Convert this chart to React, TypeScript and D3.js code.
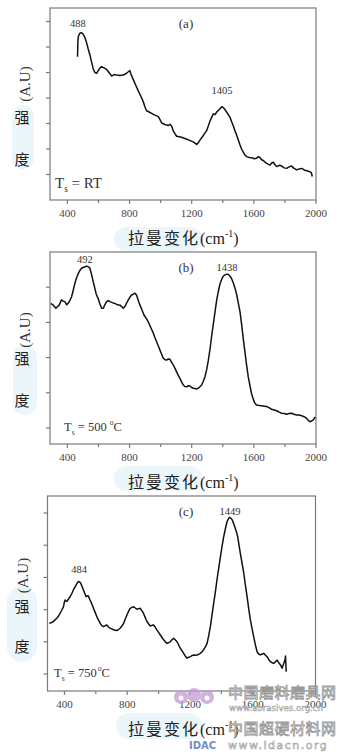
import React from "react";
import * as d3 from "d3";

// Raman shift (cm^-1), intensity (a.u.)
const ramanA: [number, number][] = [
  [465, 5.62], [468, 6.3], [472, 6.45], [480, 6.54], [490, 6.56], [500, 6.52], [512, 6.38], [523, 6.18],
  [534, 5.92], [545, 5.69], [556, 5.4], [566, 5.15], [577, 5.0], [588, 4.97], [599, 5.08], [610, 5.18],
  [620, 5.23], [636, 5.18], [652, 5.12], [668, 5.0], [685, 4.86], [701, 4.92], [717, 4.9], [738, 4.88],
  [759, 4.9], [775, 4.95], [792, 5.03], [802, 5.08], [808, 4.95], [824, 4.72], [840, 4.5], [856, 4.28],
  [872, 4.08], [888, 3.86], [899, 3.65], [910, 3.5], [926, 3.45], [942, 3.4], [963, 3.33], [985, 3.27],
  [996, 3.15], [1007, 3.02], [1028, 2.96], [1049, 2.92], [1060, 2.97], [1071, 2.9], [1082, 2.7],
  [1092, 2.6], [1103, 2.5], [1120, 2.48], [1140, 2.45], [1160, 2.4], [1178, 2.36], [1194, 2.32],
  [1210, 2.28], [1232, 2.18], [1243, 2.25], [1253, 2.35], [1269, 2.48], [1285, 2.62], [1296, 2.72],
  [1308, 2.92], [1318, 3.1], [1329, 3.25], [1339, 3.38], [1350, 3.35], [1361, 3.45], [1372, 3.52],
  [1382, 3.58], [1393, 3.66], [1404, 3.62], [1414, 3.55], [1430, 3.4], [1446, 3.25], [1457, 3.07],
  [1468, 2.9], [1478, 2.72], [1489, 2.55], [1500, 2.35], [1511, 2.16], [1521, 2.0], [1532, 1.88],
  [1543, 1.76], [1554, 1.7], [1570, 1.67], [1586, 1.66], [1602, 1.62], [1618, 1.64], [1629, 1.7],
  [1640, 1.66], [1650, 1.58], [1661, 1.55], [1672, 1.48], [1683, 1.44], [1694, 1.4], [1704, 1.37],
  [1715, 1.45], [1726, 1.48], [1736, 1.38], [1747, 1.31], [1763, 1.36], [1779, 1.33], [1795, 1.26],
  [1811, 1.24], [1827, 1.3], [1843, 1.33], [1859, 1.24], [1876, 1.18], [1892, 1.22], [1908, 1.24],
  [1924, 1.18], [1940, 1.15], [1956, 1.12], [1970, 1.07], [1976, 0.92],
];

const ramanB: [number, number][] = [
  [292, 4.54], [309, 4.49], [326, 4.4], [337, 4.45], [347, 4.49], [362, 4.64], [373, 4.6], [384, 4.59],
  [395, 4.5], [405, 4.54], [416, 4.62], [427, 4.73], [438, 4.92], [448, 5.11], [459, 5.27], [470, 5.39],
  [481, 5.48], [491, 5.54], [502, 5.56], [513, 5.58], [524, 5.6], [534, 5.58], [545, 5.54], [556, 5.35],
  [566, 5.16], [575, 5.0], [584, 4.83], [591, 4.74], [598, 4.68], [609, 4.52], [620, 4.4], [631, 4.4],
  [641, 4.5], [652, 4.59], [663, 4.62], [674, 4.59], [690, 4.56], [706, 4.54], [722, 4.5], [738, 4.49],
  [749, 4.45], [759, 4.4], [770, 4.45], [781, 4.55], [792, 4.64], [803, 4.72], [813, 4.78], [824, 4.8],
  [835, 4.83], [845, 4.78], [856, 4.62], [867, 4.49], [880, 4.35], [893, 4.21], [906, 4.12], [920, 4.02],
  [936, 3.86], [953, 3.69], [963, 3.57], [974, 3.45], [985, 3.33], [995, 3.22], [1006, 3.1], [1017, 2.98],
  [1028, 2.94], [1038, 2.93], [1049, 2.96], [1060, 2.95], [1070, 2.87], [1081, 2.79], [1092, 2.7],
  [1102, 2.6], [1113, 2.5], [1124, 2.41], [1135, 2.31], [1146, 2.22], [1156, 2.18], [1167, 2.17],
  [1178, 2.2], [1189, 2.19], [1200, 2.15], [1210, 2.13], [1221, 2.12], [1232, 2.11], [1243, 2.13],
  [1253, 2.17], [1264, 2.22], [1274, 2.32], [1285, 2.45], [1296, 2.65], [1307, 2.92], [1318, 3.25],
  [1328, 3.6], [1339, 3.95], [1350, 4.3], [1361, 4.64], [1371, 4.87], [1382, 5.09], [1393, 5.22],
  [1403, 5.31], [1414, 5.35], [1425, 5.37], [1436, 5.36], [1446, 5.32], [1457, 5.24], [1468, 5.12],
  [1478, 4.98], [1489, 4.8], [1500, 4.55], [1511, 4.3], [1521, 3.95], [1532, 3.53], [1543, 3.15],
  [1553, 2.8], [1564, 2.45], [1575, 2.2], [1585, 1.98], [1596, 1.82], [1607, 1.7], [1618, 1.65],
  [1634, 1.64], [1650, 1.63], [1666, 1.62], [1682, 1.61], [1698, 1.58], [1714, 1.53], [1730, 1.51],
  [1747, 1.49], [1763, 1.45], [1779, 1.42], [1795, 1.41], [1811, 1.39], [1827, 1.41], [1843, 1.42],
  [1859, 1.39], [1875, 1.37], [1891, 1.37], [1907, 1.35], [1923, 1.32], [1940, 1.27], [1950, 1.22],
  [1961, 1.18], [1972, 1.2], [1983, 1.23], [1993, 1.3], [2000, 1.28],
];

const ramanC: [number, number][] = [
  [304, 2.57], [318, 2.6], [330, 2.63], [340, 2.68], [351, 2.73], [362, 2.8], [372, 2.88], [383, 2.98],
  [394, 3.09], [399, 3.22], [404, 3.3], [410, 3.27], [415, 3.25], [426, 3.33], [436, 3.4], [447, 3.5],
  [457, 3.61], [466, 3.69], [474, 3.76], [482, 3.83], [489, 3.87], [497, 3.86], [504, 3.82], [512, 3.72],
  [521, 3.61], [530, 3.5], [538, 3.4], [546, 3.43], [553, 3.42], [560, 3.33], [568, 3.25], [579, 3.12],
  [589, 2.99], [600, 2.86], [611, 2.73], [620, 2.65], [628, 2.57], [638, 2.5], [649, 2.47], [659, 2.5],
  [670, 2.52], [681, 2.46], [691, 2.42], [702, 2.4], [713, 2.37], [724, 2.36], [734, 2.35], [745, 2.38],
  [755, 2.42], [766, 2.49], [777, 2.57], [787, 2.7], [798, 2.83], [809, 2.95], [819, 3.04], [830, 3.07],
  [840, 3.09], [851, 3.05], [862, 3.01], [872, 3.03], [883, 3.04], [894, 2.96], [904, 2.88], [915, 2.75],
  [926, 2.63], [936, 2.56], [947, 2.49], [958, 2.51], [968, 2.52], [979, 2.45], [989, 2.37], [1000, 2.29],
  [1011, 2.21], [1021, 2.14], [1032, 2.06], [1043, 2.0], [1053, 1.95], [1064, 1.97], [1074, 2.0],
  [1085, 2.06], [1096, 2.11], [1106, 2.06], [1117, 2.0], [1128, 1.9], [1138, 1.8], [1149, 1.72],
  [1160, 1.64], [1170, 1.56], [1181, 1.49], [1192, 1.52], [1202, 1.54], [1213, 1.57], [1223, 1.59],
  [1234, 1.58], [1245, 1.59], [1255, 1.61], [1266, 1.64], [1277, 1.69], [1287, 1.75], [1298, 1.84],
  [1309, 1.95], [1319, 2.18], [1330, 2.47], [1340, 2.82], [1351, 3.19], [1362, 3.55], [1372, 3.92],
  [1383, 4.28], [1394, 4.64], [1404, 4.96], [1415, 5.27], [1426, 5.52], [1436, 5.73], [1445, 5.82],
  [1453, 5.87], [1460, 5.84], [1468, 5.8], [1478, 5.68], [1489, 5.52], [1497, 5.4], [1504, 5.27],
  [1512, 5.02], [1521, 4.75], [1532, 4.44], [1543, 4.13], [1553, 3.77], [1564, 3.4], [1574, 3.04],
  [1585, 2.68], [1596, 2.4], [1606, 2.16], [1617, 1.9], [1628, 1.69], [1638, 1.62], [1649, 1.59],
  [1660, 1.62], [1670, 1.64], [1681, 1.58], [1691, 1.54], [1702, 1.45], [1713, 1.38], [1723, 1.35],
  [1734, 1.33], [1745, 1.38], [1755, 1.43], [1766, 1.35], [1777, 1.28], [1787, 1.18], [1798, 1.33],
  [1806, 1.45], [1809, 1.56], [1813, 1.07],
];

const xTickLabels = [400, 800, 1200, 1600, 2000];
const xMinorTicks = [600, 1000, 1400, 1800];
const yTicksA = [1, 2, 3, 4, 5, 6, 7];
const yTicksB = [1, 2, 3, 4, 5];
const yTicksC = [1, 2, 3, 4, 5, 6];

const peaksA = [
  { text: "488", x: 468, y: 6.8 },
  { text: "1405", x: 1395, y: 4.16 },
];
const peaksB = [
  { text: "492", x: 513, y: 5.7 },
  { text: "1438", x: 1427, y: 5.47 },
];
const peaksC = [
  { text: "484", x: 493, y: 4.14 },
  { text: "1449", x: 1455, y: 5.94 },
];

const SERIF = "'Liberation Serif', 'DejaVu Serif', serif";
const CJK = "'Noto Sans CJK SC', sans-serif";
const HL = "#eaf6f9";

type PanelProps = {
  data: [number, number][];
  left: number;
  right: number;
  top: number;
  bottom: number;
  xDomain: [number, number];
  yDomain: [number, number];
  yTicks: number[];
  peaks: { text: string; x: number; y: number }[];
  letter: string;
  tsSize: number;
  tsX: number;
  tsY: number;
  tsValue: string;
  tsDegree: boolean;
};

function Panel(p: PanelProps) {
  const x = d3.scaleLinear().domain(p.xDomain).range([p.left, p.right]);
  const y = d3.scaleLinear().domain(p.yDomain).range([p.bottom, p.top]);
  const line = d3
    .line<[number, number]>()
    .x((d) => x(d[0]))
    .y((d) => y(d[1]))
    .curve(d3.curveLinear);
  const axisColor = "#7a7a7a";
  const midY = (p.top + p.bottom) / 2;
  return (
    <g>
      <path d={line(p.data) || ""} fill="none" stroke="#111" strokeWidth={1.5} strokeLinejoin="round" />
      <rect
        x={p.left}
        y={p.top}
        width={p.right - p.left}
        height={p.bottom - p.top}
        fill="none"
        stroke={axisColor}
        strokeWidth={1.2}
      />
      {p.yTicks.map((t) => (
        <line key={"yt" + t} x1={p.left - 4} x2={p.left} y1={y(t)} y2={y(t)} stroke={axisColor} strokeWidth={1.2} />
      ))}
      {xTickLabels.map((t) => (
        <g key={"xt" + t}>
          <line x1={x(t)} x2={x(t)} y1={p.bottom} y2={p.bottom + 4} stroke={axisColor} strokeWidth={1.2} />
          <text x={x(t)} y={p.bottom + 16.5} textAnchor="middle" fontFamily={SERIF} fontSize={11} fill="#444">
            {t}
          </text>
        </g>
      ))}
      {xMinorTicks.map((t) => (
        <line key={"xm" + t} x1={x(t)} x2={x(t)} y1={p.bottom} y2={p.bottom + 3} stroke={axisColor} strokeWidth={1.2} />
      ))}
      {p.peaks.map((pk) => (
        <text key={pk.text} x={x(pk.x)} y={y(pk.y)} textAnchor="middle" fontFamily={SERIF} fontSize={10.5} fill="#333">
          {pk.text}
        </text>
      ))}
      <text x={186} y={p.top + 20} textAnchor="middle" fontFamily={SERIF} fontSize={13} fill="#333">
        {p.letter}
      </text>
      <text x={p.tsX} y={p.tsY} fontFamily={SERIF} fontSize={p.tsSize} fill="#333">
        T
        <tspan fontSize={p.tsSize * 0.62} dy={4}>
          s
        </tspan>
        <tspan dy={-4}>{" = " + p.tsValue}</tspan>
        {p.tsDegree ? (
          <>
            <tspan fontSize={p.tsSize * 0.62} dy={-6} dx={p.tsValue === "500" ? 3 : 1}>
              o
            </tspan>
            <tspan dy={6}>C</tspan>
          </>
        ) : null}
      </text>
      {/* y-axis label */}
      <text
        transform={`translate(${p.left - 20},${midY - 18 + (p.top < 20 ? -2 : 0)}) rotate(-90)`}
        textAnchor="middle"
        fontFamily={SERIF}
        fontSize={15}
        fill="#333"
      >
        (A.U)
      </text>
      {/* x-axis label */}
      <text x={128} y={p.bottom + 44} fontFamily={CJK} fontSize={16} letterSpacing={2} fill="#222">
        拉曼变化
        <tspan fontFamily={SERIF} letterSpacing={0} fontSize={16}>
          (cm
        </tspan>
        <tspan fontFamily={SERIF} letterSpacing={0} fontSize={10} dy={-7}>
          -1
        </tspan>
        <tspan fontFamily={SERIF} letterSpacing={0} fontSize={16} dy={7}>
          )
        </tspan>
      </text>
    </g>
  );
}

function YChars({ x, y1, y2 }: { x: number; y1: number; y2: number }) {
  return (
    <g fontFamily={CJK} fontSize={15} fill="#222" textAnchor="middle">
      <text x={x} y={y1}>强</text>
      <text x={x} y={y2}>度</text>
    </g>
  );
}

export default function App() {
  return (
    <svg
      width={347}
      height={754}
      style={{ position: "absolute", left: 0, top: 0, background: "#fff" }}
      xmlns="http://www.w3.org/2000/svg"
    >
      <rect x={0} y={0} width={347} height={754} fill="#fff" />
      {/* highlight blobs */}
      <rect x={12} y={105} width={22} height={64} rx={11} fill={HL} />
      <rect x={114} y={227} width={88} height={24} rx={12} fill={HL} />
      <rect x={13} y={345} width={24} height={70} rx={12} fill={HL} />
      <rect x={114} y={466} width={88} height={25} rx={12} fill={HL} />
      <rect x={7} y={586} width={30} height={76} rx={15} fill={HL} />
      <rect x={116} y={713} width={86} height={26} rx={13} fill={HL} />

      <Panel
        data={ramanA}
        left={50}
        right={316}
        top={8}
        bottom={200}
        xDomain={[288, 2000]}
        yDomain={[0, 7.53]}
        yTicks={yTicksA}
        peaks={peaksA}
        letter="(a)"
        tsSize={15}
        tsX={55}
        tsY={188}
        tsValue="RT"
        tsDegree={false}
      />
      <YChars x={22} y1={123} y2={165} />

      <Panel
        data={ramanB}
        left={50}
        right={316}
        top={252}
        bottom={444}
        xDomain={[288, 2000]}
        yDomain={[0.545, 6.0]}
        yTicks={yTicksB}
        peaks={peaksB}
        letter="(b)"
        tsSize={12.5}
        tsX={64}
        tsY={431}
        tsValue="500"
        tsDegree={true}
      />
      <YChars x={22} y1={364} y2={406} />

      <Panel
        data={ramanC}
        left={47.5}
        right={315.5}
        top={496}
        bottom={691}
        xDomain={[292, 2000]}
        yDomain={[0.47, 6.53]}
        yTicks={yTicksC}
        peaks={peaksC}
        letter="(c)"
        tsSize={12.5}
        tsX={54}
        tsY={677}
        tsValue="750"
        tsDegree={true}
      />
      <YChars x={22} y1={612} y2={652} />

      {/* watermark */}
      <g opacity={0.75}>
        <circle cx={181} cy={697} r={7} fill="#c49ad0" />
        <circle cx={194} cy={695} r={7} fill="#c49ad0" />
        <circle cx={207} cy={697} r={7} fill="#c49ad0" />
        <circle cx={181} cy={698} r={2.5} fill="#fff" />
        <circle cx={207} cy={698} r={2.5} fill="#fff" />
      </g>
      <text x={228} y={698} fontFamily={CJK} fontSize={15} fill="#fff" stroke="#9a9a9a" strokeWidth={0.8} letterSpacing={0.5}>
        中国磨料磨具网
      </text>
      <text x={229} y={711} fontFamily="'DejaVu Sans', sans-serif" fontSize={8.6} fill="#fff" stroke="#a0a0a0" strokeWidth={0.5}>
        www.abrasives.org.cn
      </text>
      <text x={228} y={734} fontFamily={CJK} fontSize={15} fill="#fff" stroke="#9a9a9a" strokeWidth={0.8} letterSpacing={0.5}>
        中国超硬材料网
      </text>
      <text x={228} y={749} fontFamily="'DejaVu Sans', sans-serif" fontSize={11} fill="#fff" stroke="#a0a0a0" strokeWidth={0.6} letterSpacing={1.5}>
        www.idacn.org
      </text>
      <text x={189} y={749} fontFamily="'DejaVu Sans', sans-serif" fontSize={10} fontWeight="bold" fill="#6f8fc8">
        IDAC
      </text>
    </svg>
  );
}
